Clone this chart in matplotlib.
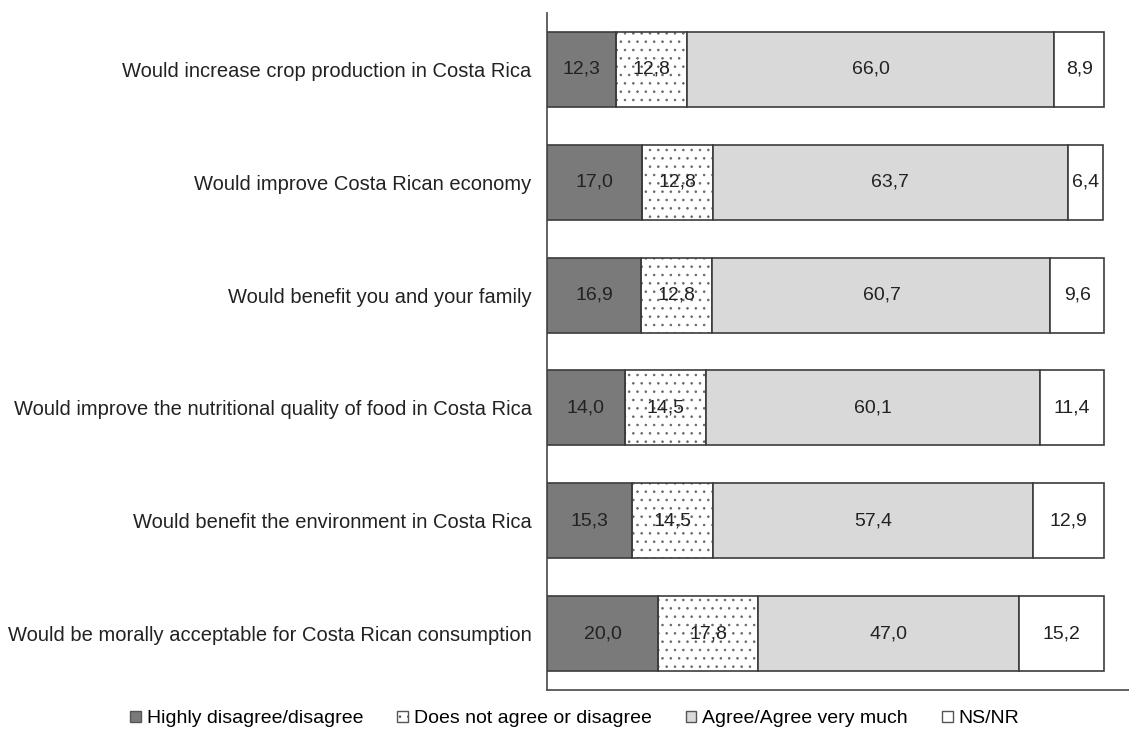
import matplotlib
matplotlib.use("Agg")
import matplotlib.pyplot as plt
from matplotlib.patches import Patch

plt.rcParams['font.family'] = ['Liberation Sans', 'DejaVu Sans']
plt.rcParams['hatch.linewidth'] = 0.6

statements = [
    "Would increase crop production in Costa Rica",
    "Would improve Costa Rican economy",
    "Would benefit you and your family",
    "Would improve the nutritional quality of food in Costa Rica",
    "Would benefit the environment in Costa Rica",
    "Would be morally acceptable for Costa Rican consumption",
]
disagree = [12.3, 17.0, 16.9, 14.0, 15.3, 20.0]
neutral = [12.8, 12.8, 12.8, 14.5, 14.5, 17.8]
agree = [66.0, 63.7, 60.7, 60.1, 57.4, 47.0]
nsnr = [8.9, 6.4, 9.6, 11.4, 12.9, 15.2]
series_names = ["Highly disagree/disagree", "Does not agree or disagree",
                "Agree/Agree very much", "NS/NR"]

series = [disagree, neutral, agree, nsnr]
faces = ["#7a7a7a", "#ffffff", "#d9d9d9", "#ffffff"]
hatches = [None, "..", None, None]
edge = "#3c3c3c"

fig = plt.figure(figsize=(11.29, 7.31), dpi=100)
ax = fig.add_axes([0.4845, 0.0561, 0.5155, 0.9261])

n = len(statements)
ypos = list(range(n))
bar_h = 0.665
left = [0.0] * n
for vals, fc, hat in zip(series, faces, hatches):
    if hat:
        # dotted fill drawn first, outline drawn on top in the common edge colour
        ax.barh(ypos, vals, left=left, height=bar_h, color=fc,
                hatch=hat, edgecolor="#666666", linewidth=0, zorder=2)
        ax.barh(ypos, vals, left=left, height=bar_h, facecolor="none",
                edgecolor=edge, linewidth=1.2, zorder=3)
    else:
        ax.barh(ypos, vals, left=left, height=bar_h, color=fc,
                edgecolor=edge, linewidth=1.2, zorder=3)
    for i, v in enumerate(vals):
        ax.text(left[i] + v / 2, ypos[i], f"{v:.1f}".replace(".", ","),
                ha="center", va="center", fontsize=14, color="#222222",
                zorder=4)
    left = [a + b for a, b in zip(left, vals)]

ax.set_xlim(0, 104.5)
ax.set_ylim(n - 0.5, -0.5)
ax.set_xticks([])
ax.set_yticks(ypos)
ax.set_yticklabels(statements, fontsize=14.5, color="#222222")
ax.tick_params(axis="y", length=0, pad=11)
for s in ["top", "right"]:
    ax.spines[s].set_visible(False)
for s in ["left", "bottom"]:
    ax.spines[s].set_color("#555555")
    ax.spines[s].set_linewidth(1.3)

handles = []
for name, fc, hat in zip(series_names, faces, hatches):
    handles.append(Patch(facecolor=fc, edgecolor="#555555", hatch=hat,
                         linewidth=1.0, label=name))
fig.legend(handles=handles, loc="center", bbox_to_anchor=(0.509, 0.0165),
           ncol=4, frameon=False, fontsize=14, handlelength=0.55,
           handleheight=0.55, handletextpad=0.3, columnspacing=1.75,
           borderpad=0.1)

fig.savefig("out.png", dpi=100)
